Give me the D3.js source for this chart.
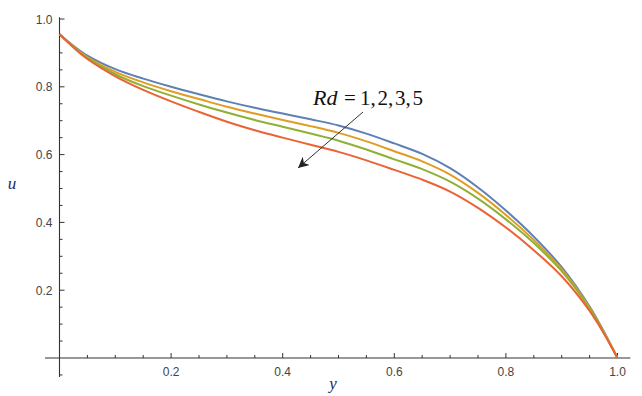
<!DOCTYPE html>
<html><head><meta charset="utf-8">
<script src="https://cdn.jsdelivr.net/npm/d3@7"></script>
<style>body{margin:0;background:#fff}</style>
</head><body><svg id="c" width="642" height="396"></svg>
<script>
const ys = [0,0.025,0.05,0.1,0.15,0.2,0.25,0.3,0.35,0.4,0.45,0.5,0.55,0.6,0.65,0.7,0.75,0.8,0.85,0.9,0.95,0.975,1];
const rd1 = [0.955,0.921,0.892,0.852,0.824,0.800,0.778,0.757,0.738,0.721,0.704,0.686,0.662,0.633,0.602,0.560,0.503,0.435,0.358,0.268,0.152,0.080,0];
const rd2 = [0.955,0.919,0.888,0.844,0.813,0.787,0.764,0.741,0.721,0.702,0.684,0.664,0.639,0.610,0.580,0.541,0.487,0.422,0.348,0.262,0.149,0.078,0];
const rd3 = [0.955,0.918,0.885,0.837,0.802,0.774,0.748,0.724,0.702,0.682,0.662,0.641,0.615,0.586,0.557,0.520,0.470,0.409,0.339,0.256,0.146,0.077,0];
const rd5 = [0.955,0.916,0.882,0.831,0.791,0.757,0.726,0.697,0.672,0.650,0.629,0.608,0.583,0.555,0.526,0.491,0.443,0.385,0.318,0.241,0.139,0.074,0];
const rdValues = ["1","2","3","5"];
const colors = ["#5E81B5","#E19C24","#8FB032","#EB6235"];
const xTicks = [0.2,0.4,0.6,0.8,1.0];
const yTicks = [0.2,0.4,0.6,0.8,1.0];

const svg = d3.select("#c");
const x = d3.scaleLinear().domain([0,1]).range([59.5,617.5]);
const y = d3.scaleLinear().domain([0,1]).range([358,19]);
const axisCol = "#333";

// axes lines
svg.append("line").attr("x1",x(-0.026)).attr("x2",x(1.023)).attr("y1",y(0)).attr("y2",y(0)).attr("stroke",axisCol).attr("stroke-width",1.1);
svg.append("line").attr("x1",x(0)).attr("x2",x(0)).attr("y1",y(1.005)).attr("y2",y(-0.056)).attr("stroke",axisCol).attr("stroke-width",1.1);

// x ticks
const xMinor = d3.range(0.05,1.001,0.05).filter(v=>Math.abs(v*5-Math.round(v*5))>1e-6);
svg.selectAll(".xmin").data(xMinor).enter().append("line")
  .attr("x1",d=>x(d)).attr("x2",d=>x(d)).attr("y1",y(0)).attr("y2",y(0)-3).attr("stroke",axisCol);
svg.selectAll(".xmaj").data(xTicks).enter().append("line")
  .attr("x1",d=>x(d)).attr("x2",d=>x(d)).attr("y1",y(0)).attr("y2",y(0)-5).attr("stroke",axisCol);
svg.selectAll(".xlab").data(xTicks).enter().append("text")
  .attr("x",d=>x(d)).attr("y",y(0)+18).attr("text-anchor","middle")
  .attr("font-family","Liberation Sans, Arial, sans-serif").attr("font-size",12).attr("fill","#444")
  .text(d=>d.toFixed(1));

// y ticks
const yMinor = d3.range(-0.05,1.001,0.05).filter(v=>Math.abs(v*5-Math.round(v*5))>1e-6);
svg.selectAll(".ymin").data(yMinor).enter().append("line")
  .attr("x1",x(0)).attr("x2",x(0)+3).attr("y1",d=>y(d)).attr("y2",d=>y(d)).attr("stroke",axisCol);
svg.selectAll(".ymaj").data(yTicks).enter().append("line")
  .attr("x1",x(0)).attr("x2",x(0)+5).attr("y1",d=>y(d)).attr("y2",d=>y(d)).attr("stroke",axisCol);
svg.selectAll(".ylab").data(yTicks).enter().append("text")
  .attr("x",x(0)-7).attr("y",d=>y(d)+4.5).attr("text-anchor","end")
  .attr("font-family","Liberation Sans, Arial, sans-serif").attr("font-size",12).attr("fill","#444")
  .text(d=>d.toFixed(1));

// curves
const data = [rd1,rd2,rd3,rd5];
const line = d3.line().x((d,i)=>x(ys[i])).y(d=>y(d)).curve(d3.curveCatmullRom.alpha(0.5));
svg.selectAll(".curve").data(data).enter().append("path")
  .attr("d",d=>line(d)).attr("fill","none")
  .attr("stroke",(d,i)=>colors[i]).attr("stroke-width",2);

// axis labels
svg.append("text").attr("x",12).attr("y",189).attr("text-anchor","middle")
  .attr("font-family","Liberation Serif, Times New Roman, serif").attr("font-style","italic")
  .attr("font-size",17).attr("fill","#1c2a66").text("u");
svg.append("text").attr("x",333).attr("y",389).attr("text-anchor","middle")
  .attr("font-family","Liberation Serif, Times New Roman, serif").attr("font-style","italic")
  .attr("font-size",17).attr("fill","#1c2a66").text("y");

// annotation
const ann = svg.append("text").attr("y",105)
  .attr("font-family","Liberation Serif, Times New Roman, serif").attr("font-size",21).attr("fill","#111");
ann.append("tspan").attr("x",313).attr("font-style","italic").attr("font-size",22).text("Rd");
ann.append("tspan").attr("x",344).text("=");
ann.append("tspan").attr("x",360).attr("word-spacing","-3.5").text(rdValues.join(", "));

svg.append("defs").append("marker").attr("id","ah").attr("viewBox","0 0 10 10")
  .attr("refX",10).attr("refY",5).attr("markerWidth",11).attr("markerHeight",11)
  .attr("markerUnits","userSpaceOnUse").attr("orient","auto")
  .append("path").attr("d","M0,0 L10,5 L0,10 L3,5 Z").attr("fill","#222");
svg.append("line").attr("x1",363).attr("y1",112).attr("x2",298).attr("y2",168)
  .attr("stroke","#333").attr("stroke-width",1).attr("marker-end","url(#ah)");
</script></body></html>
